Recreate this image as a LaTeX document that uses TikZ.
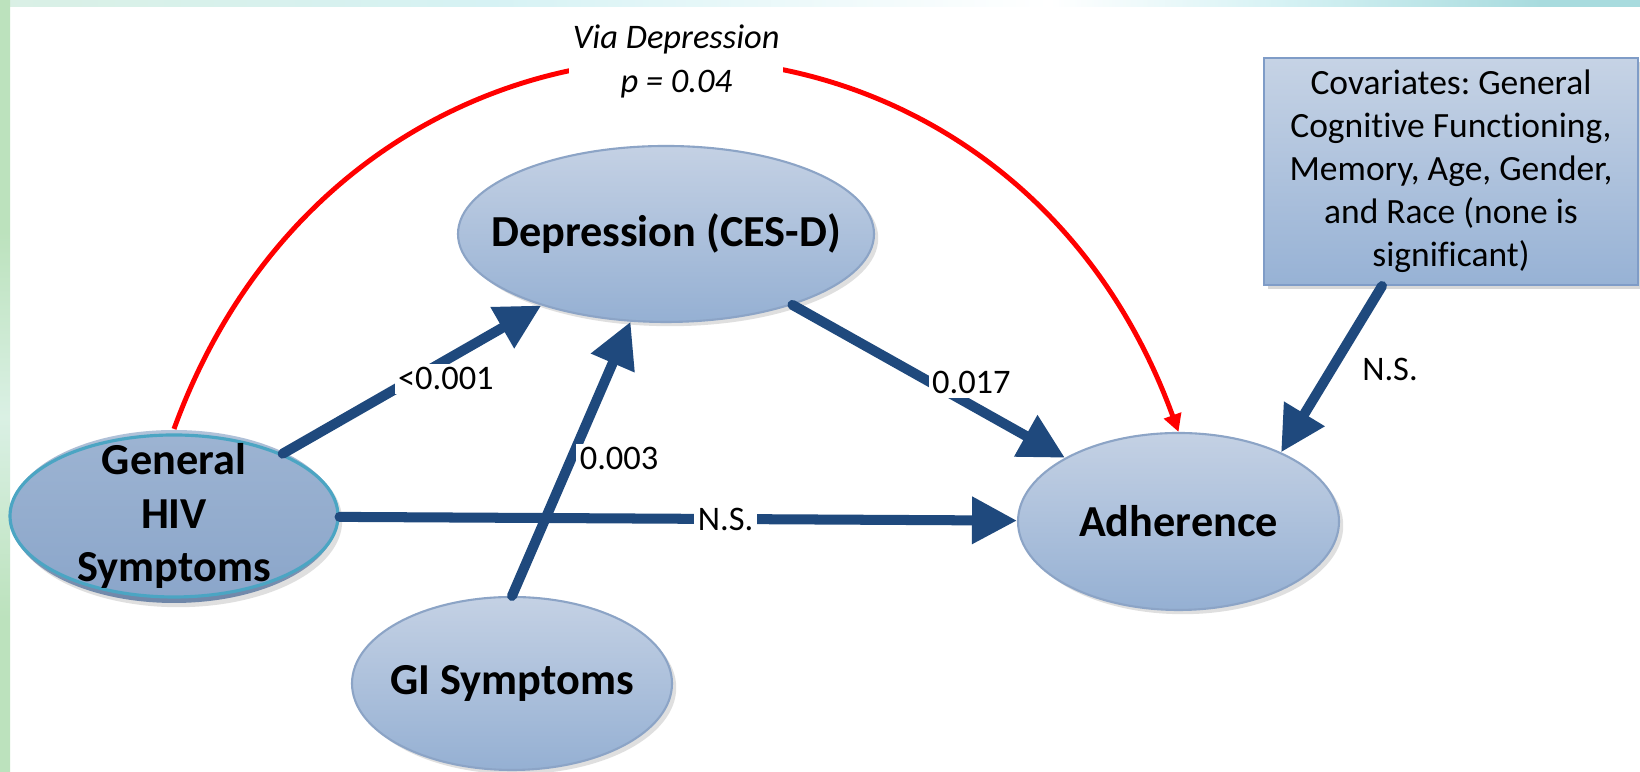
\documentclass[tikz,border=0pt]{standalone}
\usepackage{fontspec}
\setmainfont{Carlito}[Ligatures=NoCommon]
\frenchspacing
\usetikzlibrary{arrows.meta,shapes.geometric,shadows,positioning}

\definecolor{pathblue}{RGB}{31,73,125}
\definecolor{ovaltop}{RGB}{196,209,228}
\definecolor{ovalbot}{RGB}{149,176,211}
\definecolor{ovaledge}{RGB}{140,164,198}
\definecolor{hivfill}{RGB}{139,166,202}
\definecolor{hivedge}{RGB}{75,165,195}
\definecolor{hivbacktop}{RGB}{178,195,218}
\definecolor{hivbackbot}{RGB}{110,134,168}
\definecolor{boxtop}{RGB}{198,211,229}
\definecolor{boxbot}{RGB}{151,178,213}
\definecolor{boxedge}{RGB}{127,156,199}
\definecolor{bandgreen}{RGB}{188,226,189}
\definecolor{bandlight}{RGB}{218,240,228}
\definecolor{bandteal}{RGB}{168,219,222}
\definecolor{bandpale}{RGB}{214,242,244}

\pgfdeclarehorizontalshading{topband}{100bp}{color(0bp)=(bandgreen); color(16bp)=(bandgreen); color(24bp)=(bandlight); color(40bp)=(bandpale); color(57bp)=(white); color(64bp)=(bandpale); color(72bp)=(bandteal); color(80bp)=(bandteal); color(87bp)=(bandpale); color(93bp)=(bandteal); color(100bp)=(bandteal)}
\pgfdeclareverticalshading{sideband}{100bp}{color(0bp)=(bandgreen); color(35bp)=(bandgreen); color(48bp)=(bandlight); color(60bp)=(bandgreen); color(100bp)=(bandgreen)}

\begin{document}
\begin{tikzpicture}[
    oval/.style={ellipse, draw=ovaledge, line width=0.6pt, top color=ovaltop, bottom color=ovalbot,
        inner sep=0pt, drop shadow={shadow xshift=1.2pt, shadow yshift=-1.2pt, opacity=0.25}},
    frontoval/.style={ellipse, draw=hivedge, line width=0.9pt, top color=hivfill!85!white, bottom color=hivfill,
        inner sep=0pt},
    nodetext/.style={font=\fontsize{12.6}{15.3}\selectfont\bfseries, align=center, inner sep=0pt},
    covbox/.style={rectangle, draw=boxedge, line width=0.6pt, top color=boxtop, bottom color=boxbot,
        inner sep=0pt, align=center, font=\fontsize{10.1}{12.2}\selectfont,
        drop shadow={shadow xshift=1.2pt, shadow yshift=-1.2pt, opacity=0.3}},
    link/.style={draw=pathblue, line width=2.85pt, line cap=round, -{Triangle[length=12.8pt,width=12.8pt]}},
    mediation/.style={draw=red, line width=1.4pt, -{Triangle[length=5pt,width=5pt]}},
    plabel/.style={fill=white, inner sep=1pt, font=\fontsize{9.8}{12.5}\selectfont}
]
    % frame
    \useasboundingbox (0,0) rectangle (16.4,7.72);
    \fill[white] (0,0) rectangle (16.4,7.72);
    \shade[shading=topband] (0,7.65) rectangle (16.4,7.72);
    \shade[shading=sideband] (0,0) rectangle (0.1,7.72);

    % variables
    \node[oval, minimum width=4.16cm, minimum height=1.76cm,
        label={[nodetext]center:Depression (CES-D)}] (dep) at (6.66,5.38) {};
    \node[oval, minimum width=3.21cm, minimum height=1.77cm,
        label={[nodetext]center:Adherence}] (adh) at (11.785,2.505) {};
    \node[oval, minimum width=3.20cm, minimum height=1.73cm,
        label={[nodetext]center:GI Symptoms}] (gi) at (5.12,0.885) {};
    \node[oval, draw=none, top color=hivbacktop, bottom color=hivbackbot,
        minimum width=3.28cm, minimum height=1.73cm] (hivback) at (1.74,2.555) {};
    \node[frontoval, minimum width=3.28cm, minimum height=1.62cm,
        label={[nodetext]center:General\\HIV\\Symptoms}] (hiv) at (1.74,2.56) {};
    \node[covbox, minimum width=3.74cm, minimum height=2.27cm] (cov) at (14.51,6.005)
        {Covariates: General\\Cognitive Functioning,\\Memory, Age, Gender,\\and Race (none is\\significant)};

    % indirect effect
    \draw[mediation] (hivback.north) .. controls +(70:5.24) and +(110:5.24) ..
        node[plabel, midway, align=center, font=\fontsize{9.8}{12.5}\selectfont\itshape] {Via Depression\\p = 0.04} (adh.north);

    % paths
    \draw[link] (hiv) -- node[plabel, pos=0.6, xshift=0.8mm, yshift=-1.4mm] {<0.001} (dep);
    \draw[link] (gi.north) -- node[plabel, pos=0.5, anchor=west] {0.003} (dep.248);
    \draw[link] (dep) -- node[plabel, pos=0.62, xshift=1mm, yshift=1.7mm] {0.017} (adh);
    \draw[link] (hiv) -- node[plabel, pos=0.57] {N.S.} (adh);
    \draw[link] ([xshift=-6.9mm]cov.south) -- node[pos=0.5, right=1.4mm, font=\fontsize{9.8}{12.5}\selectfont] {N.S.} (adh.34);
\end{tikzpicture}
\end{document}
